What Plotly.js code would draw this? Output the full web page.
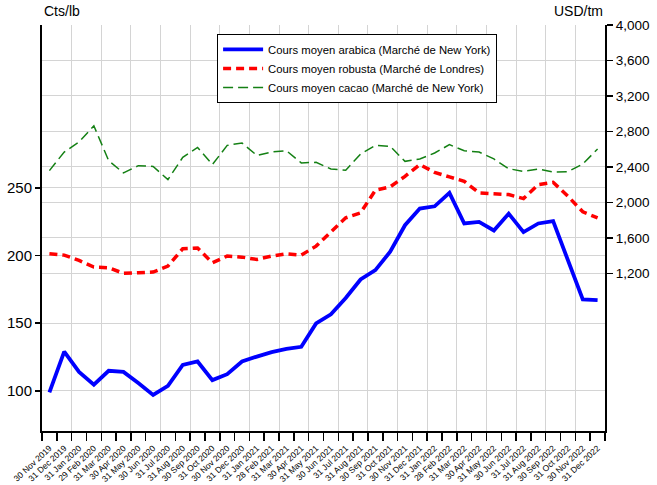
<!DOCTYPE html>
<html>
<head>
<meta charset="utf-8">
<script src="https://cdn.plot.ly/plotly-3.0.1.min.js"></script>
<style>html,body{margin:0;padding:0;background:#fff;}#chart{width:657px;height:485px;}</style>
</head>
<body>
<div id="chart"></div>
<script>
const dateLabels = ["30 Nov 2019","31 Dec 2019","31 Jan 2020","29 Feb 2020","31 Mar 2020","30 Apr 2020","31 May 2020","30 Jun 2020","31 Jul 2020","31 Aug 2020","30 Sep 2020","31 Oct 2020","30 Nov 2020","31 Dec 2020","31 Jan 2021","28 Feb 2021","31 Mar 2021","30 Apr 2021","31 May 2021","30 Jun 2021","31 Jul 2021","31 Aug 2021","30 Sep 2021","31 Oct 2021","30 Nov 2021","31 Dec 2021","31 Jan 2022","28 Feb 2022","31 Mar 2022","30 Apr 2022","31 May 2022","30 Jun 2022","31 Jul 2022","31 Aug 2022","30 Sep 2022","31 Oct 2022","30 Nov 2022","31 Dec 2022"];

// Cts/lb (left axis)
const arabica = [98.8,129,114,104.5,114.8,114,105.7,97,103.7,119.2,121.7,107.9,112.3,121.7,125.3,128.6,131,132.5,149.8,156.6,168.6,182.3,189.2,202.8,222.4,234.7,236.4,246.3,223.7,224.9,218.5,231,217.3,223.7,225.4,197,167.6,167];
// USD/tm (right axis)
const robusta = [1421,1406,1346,1271,1264,1200,1208,1215,1282,1478,1485,1320,1395,1383,1357,1395,1421,1406,1507,1661,1826,1882,2137,2175,2294,2426,2339,2287,2238,2107,2096,2088,2043,2201,2227,2069,1894,1826];
const cacao = [2358,2568,2681,2864,2471,2332,2414,2406,2257,2508,2620,2426,2643,2670,2530,2568,2583,2445,2452,2377,2362,2546,2643,2632,2463,2490,2557,2651,2583,2568,2490,2380,2350,2377,2343,2347,2433,2602];

const seriesNames = ["Cours moyen arabica (Marché de New York)","Cours moyen robusta (Marché de Londres)","Cours moyen cacao (Marché de New York)"];
const leftTicks = [100,150,200,250];
const rightTicks = [1200,1600,2000,2400,2800,3200,3600,4000];

const idx = dateLabels.map((_, i) => i);
const boundaries = dateLabels.map((_, i) => i - 0.5).concat([dateLabels.length - 0.5]);
const gridBounds = boundaries.filter((_, k) => k > 0 && k < dateLabels.length && k % 2 === 0);
const xr = [-0.5, dateLabels.length - 0.5];

const FONT = "Liberation Sans, Arial, sans-serif";
const GRID = "#d4d4d4";

const traces = [
  {x: idx, y: arabica, name: seriesNames[0], type: "scatter", mode: "lines", xaxis: "x", yaxis: "y",
   line: {color: "#0000ff", width: 3.8}},
  {x: idx, y: robusta, name: seriesNames[1], type: "scatter", mode: "lines", xaxis: "x2", yaxis: "y2",
   line: {color: "#ff0000", width: 3.5, dash: "8px,5px"}},
  {x: idx, y: cacao, name: seriesNames[2], type: "scatter", mode: "lines", xaxis: "x2", yaxis: "y2",
   line: {color: "#148014", width: 1.5, dash: "10px,5px"}}
];

const layout = {
  width: 657, height: 485,
  margin: {l: 42, r: 52, t: 25, b: 54},
  paper_bgcolor: "#fff", plot_bgcolor: "#fff",
  font: {family: FONT, color: "#000"},
  showlegend: true,
  legend: {x: 0.311, y: 0.978, xanchor: "left", yanchor: "top", bgcolor: "#fff",
    bordercolor: "#000", borderwidth: 1, font: {size: 11.3, family: FONT}, tracegroupgap: 0, itemwidth: 40},
  // boundary ticks + every-other-boundary gridlines
  xaxis: {type: "linear", range: xr, tickmode: "array", tickvals: boundaries, showticklabels: false,
    ticks: "outside", ticklen: 8, tickcolor: "#000", tickwidth: 1.5,
    showgrid: false, zeroline: false, showline: true, linecolor: "#000", linewidth: 2,
    minor: {tickmode: "array", tickvals: gridBounds, ticks: "", showgrid: true, gridcolor: GRID, gridwidth: 1}},
  // labels centred on each month
  xaxis2: {type: "linear", range: xr, overlaying: "x", anchor: "y", side: "bottom", tickmode: "array",
    tickvals: idx, ticktext: dateLabels, tickangle: -43, tickfont: {size: 8.5},
    ticks: "outside", ticklen: 8, tickcolor: "rgba(0,0,0,0)", showgrid: false, zeroline: false, showline: false},
  yaxis: {range: [70.3, 370.4], tickmode: "array", tickvals: leftTicks, ticks: "outside", ticklen: 5, tickwidth: 1.5,
    tickcolor: "#000", tickfont: {size: 15}, showgrid: true, gridcolor: GRID, gridwidth: 1,
    zeroline: false, showline: true, linecolor: "#000", linewidth: 2},
  yaxis2: {range: [-577, 4000], overlaying: "y", side: "right", anchor: "x2", tickmode: "array", tickvals: rightTicks,
    tickformat: ",d", ticks: "outside", ticklen: 6, tickwidth: 1.5, tickcolor: "#000", tickfont: {size: 13.5},
    showgrid: true, gridcolor: GRID, gridwidth: 1, zeroline: false, showline: true, linecolor: "#000", linewidth: 2},
  annotations: [
    {text: "Cts/lb", xref: "paper", yref: "paper", x: 0, y: 1, xanchor: "left", yanchor: "bottom",
     yshift: 4, showarrow: false, font: {size: 14}},
    {text: "USD/tm", xref: "paper", yref: "paper", x: 1, y: 1, xanchor: "right", yanchor: "bottom",
     yshift: 4, showarrow: false, font: {size: 14}}
  ]
};

Plotly.newPlot("chart", traces, layout, {displayModeBar: false, staticPlot: true});
</script>
</body>
</html>
